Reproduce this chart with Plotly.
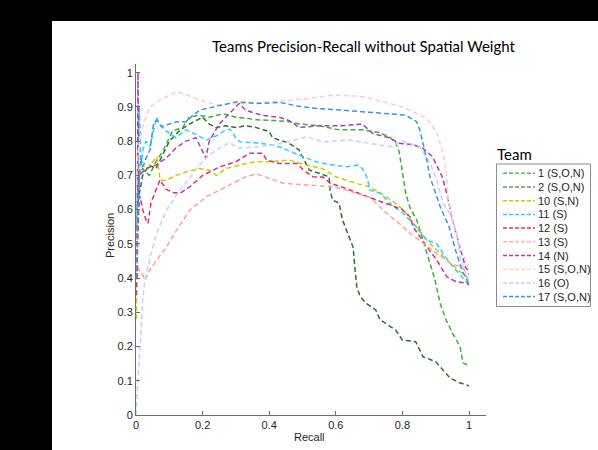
import plotly.graph_objects as go

# ---------------- data ----------------
teams = ["1 (S,O,N)", "2 (S,O,N)", "10 (S,N)", "11 (S)", "12 (S)",
         "13 (S)", "14 (N)", "15 (S,O,N)", "16 (O)", "17 (S,O,N)"]

r1 = [0.003, 0.01, 0.02, 0.04, 0.06, 0.08, 0.11, 0.14, 0.16, 0.19, 0.22, 0.26, 0.30, 0.34, 0.37, 0.42, 0.46,
      0.49, 0.55, 0.61, 0.68, 0.73, 0.76, 0.78, 0.79, 0.80, 0.81, 0.823, 0.843, 0.862, 0.883, 0.898, 0.913,
      0.93, 0.95, 0.973, 0.982, 1.0]
p1 = [0.60, 0.70, 0.72, 0.70, 0.74, 0.77, 0.83, 0.84, 0.87, 0.876, 0.87, 0.88, 0.87, 0.865, 0.862, 0.86, 0.857,
      0.85, 0.845, 0.833, 0.833, 0.825, 0.813, 0.795, 0.77, 0.71, 0.648, 0.605, 0.57, 0.511, 0.444, 0.394, 0.327,
      0.28, 0.24, 0.20, 0.152, 0.145]

r2 = [0.005, 0.02, 0.04, 0.06, 0.08, 0.10, 0.13, 0.16, 0.18, 0.20, 0.22, 0.24, 0.27, 0.30, 0.33, 0.36, 0.40,
      0.41, 0.46, 0.49, 0.51, 0.52, 0.58, 0.583, 0.59, 0.61, 0.62, 0.64, 0.652, 0.658, 0.663, 0.673, 0.69,
      0.72, 0.733, 0.78, 0.80, 0.84, 0.862, 0.90, 0.943, 0.97, 1.0]
p2 = [0.62, 0.70, 0.73, 0.72, 0.76, 0.80, 0.83, 0.85, 0.86, 0.87, 0.85, 0.84, 0.845, 0.84, 0.845, 0.84, 0.828,
      0.81, 0.794, 0.774, 0.735, 0.716, 0.696, 0.657, 0.628, 0.619, 0.57, 0.521, 0.49, 0.424, 0.375, 0.346, 0.327,
      0.307, 0.278, 0.248, 0.219, 0.214, 0.17, 0.156, 0.108, 0.095, 0.085]

r10 = [0.001, 0.003, 0.006, 0.01, 0.02, 0.035, 0.05, 0.062, 0.068, 0.072, 0.09, 0.12, 0.15, 0.19, 0.22, 0.242,
       0.27, 0.31, 0.36, 0.40, 0.46, 0.51, 0.56, 0.60, 0.66, 0.70, 0.74, 0.773, 0.803, 0.843, 0.873, 0.903,
       0.943, 0.973, 0.993, 1.0]
p10 = [0.28, 0.50, 0.65, 0.70, 0.73, 0.72, 0.74, 0.755, 0.72, 0.687, 0.685, 0.70, 0.71, 0.72, 0.715, 0.70,
       0.72, 0.73, 0.74, 0.74, 0.745, 0.73, 0.72, 0.696, 0.677, 0.667, 0.645, 0.623, 0.599, 0.55, 0.511, 0.482,
       0.444, 0.419, 0.404, 0.39]

r11 = [0.002, 0.006, 0.01, 0.015, 0.022, 0.03, 0.042, 0.05, 0.062, 0.07, 0.09, 0.12, 0.15, 0.18, 0.21, 0.24,
       0.265, 0.282, 0.30, 0.312, 0.36, 0.412, 0.44, 0.50, 0.553, 0.63, 0.665, 0.68, 0.693, 0.703, 0.733, 0.773,
       0.803, 0.84, 0.873, 0.903, 0.922, 0.952, 0.993, 1.0]
p11 = [0.55, 0.75, 0.90, 0.73, 0.78, 0.80, 0.784, 0.82, 0.87, 0.85, 0.83, 0.81, 0.833, 0.82, 0.803, 0.815,
       0.83, 0.835, 0.81, 0.798, 0.795, 0.789, 0.78, 0.755, 0.736, 0.725, 0.73, 0.72, 0.696, 0.657, 0.648, 0.609,
       0.589, 0.55, 0.511, 0.501, 0.472, 0.433, 0.389, 0.38]

r12 = [0.001, 0.004, 0.008, 0.012, 0.02, 0.03, 0.036, 0.045, 0.06, 0.072, 0.09, 0.11, 0.132, 0.162, 0.20, 0.252,
       0.30, 0.342, 0.38, 0.392, 0.43, 0.483, 0.502, 0.532, 0.562, 0.583, 0.622, 0.70, 0.73, 0.76, 0.80, 0.823,
       0.832, 0.873, 0.903, 0.933, 0.96, 0.993, 1.0]
p12 = [0.35, 0.50, 0.60, 0.64, 0.60, 0.57, 0.56, 0.62, 0.66, 0.687, 0.66, 0.65, 0.648, 0.667, 0.70, 0.725,
       0.74, 0.765, 0.765, 0.745, 0.735, 0.735, 0.716, 0.696, 0.695, 0.677, 0.665, 0.635, 0.625, 0.615, 0.60, 0.579,
       0.55, 0.492, 0.453, 0.404, 0.39, 0.385, 0.38]

r13 = [0.001, 0.004, 0.01, 0.02, 0.027, 0.042, 0.062, 0.092, 0.122, 0.162, 0.212, 0.272, 0.33, 0.362, 0.412,
       0.442, 0.512, 0.592, 0.633, 0.703, 0.753, 0.79, 0.823, 0.862, 0.903, 0.943, 0.973, 0.993, 1.0]
p13 = [0.55, 0.45, 0.42, 0.41, 0.394, 0.424, 0.453, 0.492, 0.54, 0.599, 0.638, 0.667, 0.696, 0.704, 0.686,
       0.677, 0.672, 0.667, 0.657, 0.635, 0.589, 0.56, 0.531, 0.501, 0.472, 0.444, 0.433, 0.419, 0.41]

r14 = [0.003, 0.006, 0.008, 0.01, 0.03, 0.06, 0.09, 0.12, 0.15, 0.18, 0.20, 0.21, 0.22, 0.25, 0.28, 0.31, 0.33,
       0.38, 0.43, 0.46, 0.49, 0.55, 0.62, 0.68, 0.71, 0.76, 0.79, 0.83, 0.86, 0.89, 0.92, 0.935, 0.95, 0.97,
       0.99, 1.0]
p14 = [0.40, 1.00, 0.65, 0.70, 0.72, 0.73, 0.75, 0.78, 0.80, 0.81, 0.77, 0.75, 0.80, 0.85, 0.88, 0.91, 0.89,
       0.875, 0.87, 0.86, 0.84, 0.845, 0.845, 0.85, 0.823, 0.81, 0.794, 0.79, 0.78, 0.755, 0.695, 0.64, 0.57, 0.50,
       0.43, 0.42]

r15 = [0.001, 0.005, 0.01, 0.02, 0.03, 0.042, 0.062, 0.09, 0.122, 0.152, 0.192, 0.242, 0.302, 0.35, 0.412,
       0.462, 0.523, 0.592, 0.682, 0.742, 0.80, 0.832, 0.873, 0.903, 0.922, 0.933, 0.937, 0.95, 0.963, 0.982,
       0.993, 1.0]
p15 = [0.65, 0.75, 0.80, 0.84, 0.87, 0.90, 0.915, 0.93, 0.945, 0.935, 0.92, 0.906, 0.91, 0.912, 0.915,
       0.92, 0.925, 0.935, 0.93, 0.915, 0.90, 0.886, 0.866, 0.825, 0.765, 0.70, 0.63, 0.57, 0.521, 0.472,
       0.444, 0.42]

r16 = [0.0, 0.005, 0.012, 0.021, 0.027, 0.042, 0.062, 0.092, 0.132, 0.16, 0.19, 0.22, 0.25, 0.28, 0.31, 0.372,
       0.442, 0.512, 0.562, 0.643, 0.693, 0.763, 0.80, 0.832, 0.853, 0.883, 0.903, 0.922, 0.943, 0.963, 0.973,
       0.993, 1.0]
p16 = [0.0, 0.10, 0.19, 0.346, 0.394, 0.46, 0.531, 0.599, 0.657, 0.69, 0.73, 0.76, 0.78, 0.795, 0.78, 0.784,
       0.794, 0.813, 0.798, 0.803, 0.795, 0.784, 0.80, 0.789, 0.784, 0.735, 0.687, 0.619, 0.589, 0.531, 0.462,
       0.404, 0.39]

r17 = [0.001, 0.003, 0.006, 0.01, 0.015, 0.021, 0.03, 0.042, 0.052, 0.062, 0.077, 0.10, 0.122, 0.152, 0.17,
       0.192, 0.262, 0.302, 0.362, 0.432, 0.50, 0.55, 0.613, 0.70, 0.81, 0.843, 0.853, 0.87, 0.883, 0.913, 0.94,
       0.96, 0.98, 0.994, 1.0]
p17 = [0.40, 0.50, 0.60, 0.70, 0.75, 0.725, 0.75, 0.774, 0.847, 0.862, 0.842, 0.85, 0.857, 0.857, 0.875,
       0.891, 0.906, 0.915, 0.91, 0.913, 0.90, 0.895, 0.891, 0.885, 0.876, 0.857, 0.83, 0.76, 0.695, 0.61, 0.55,
       0.48, 0.42, 0.394, 0.38]

recalls = [r1, r2, r10, r11, r12, r13, r14, r15, r16, r17]
precisions = [p1, p2, p10, p11, p12, p13, p14, p15, p16, p17]

x_ticks = [0, 0.2, 0.4, 0.6, 0.8, 1]
x_ticktext = ["0", "0.2", "0.4", "0.6", "0.8", "1"]
y_ticks = [0, 0.1, 0.2, 0.3, 0.4, 0.5, 0.6, 0.7, 0.8, 0.9, 1]
y_ticktext = ["0", "0.1", "0.2", "0.3", "0.4", "0.5", "0.6", "0.7", "0.8", "0.9", "1"]

# ---------------- styling ----------------
colors = ["#3cb03c", "#2f6f2f", "#cccc00", "#33ccff", "#d6337a",
          "#ff9f9f", "#b03cb0", "#ffcccc", "#ccccff", "#3399dd"]
legend_colors = ["#4cbf4c", "#6a946a", "#cccc00", "#33ccff", "#d6337a",
                 "#ffb0b0", "#b03cb0", "#ffd6d6", "#ccccff", "#3399dd"]

W_FIG, H_FIG = 598, 450
ML, MR, MT, MB = 136, 112, 64, 35
PW = W_FIG - ML - MR
PH = H_FIG - MT - MB
X_UNIT = 333.0
Y_UNIT = 342.3


def px_x(px):
    return (px - ML) / PW


def px_y(py):
    return (H_FIG - MB - py) / PH


fig = go.Figure()
for name, rr, pp, col in zip(teams, recalls, precisions, colors):
    fig.add_trace(go.Scatter(x=rr, y=pp, mode="lines", name=name,
                             line=dict(color=col, width=1.5, dash="5px,3px"),
                             showlegend=False))

axis_common = dict(showgrid=False, zeroline=False, showline=True, linecolor="#6e6e6e", linewidth=1,
                   ticks="inside", ticklen=4, tickcolor="#6e6e6e",
                   tickfont=dict(family="Liberation Sans, Arial", size=11, color="#262626"))
fig.update_xaxes(range=[0, PW / X_UNIT], tickvals=x_ticks, ticktext=x_ticktext, **axis_common)
fig.update_yaxes(range=[0, PH / Y_UNIT], tickvals=y_ticks, ticktext=y_ticktext, **axis_common)

shapes = [
    # black framing (left strip and top strip)
    dict(type="rect", xref="paper", yref="paper", x0=px_x(0), x1=px_x(52), y0=px_y(450), y1=px_y(0),
         fillcolor="black", line=dict(width=0), layer="above"),
    dict(type="rect", xref="paper", yref="paper", x0=px_x(0), x1=px_x(598), y0=px_y(21), y1=px_y(0),
         fillcolor="black", line=dict(width=0), layer="above"),
    # legend box
    dict(type="rect", xref="paper", yref="paper", x0=px_x(496.5), x1=px_x(590.5), y0=px_y(306.5),
         y1=px_y(164), fillcolor="white", line=dict(color="#8a8a8a", width=1), layer="above"),
]
annotations = [
    dict(text="Teams Precision-Recall without Spatial Weight", xref="paper", yref="paper",
         x=px_x(363), y=px_y(46), showarrow=False, xanchor="center", yanchor="middle",
         font=dict(family="Lato, Open Sans", size=15, color="black")),
    dict(text="Recall", xref="paper", yref="paper", x=px_x(309), y=px_y(437), showarrow=False,
         xanchor="center", yanchor="middle", font=dict(family="Liberation Sans, Arial", size=11, color="#262626")),
    dict(text="Precision", xref="paper", yref="paper", x=px_x(110), y=px_y(236), showarrow=False,
         textangle=-90, xanchor="center", yanchor="middle",
         font=dict(family="Liberation Sans, Arial", size=11, color="#262626")),
    dict(text="Team", xref="paper", yref="paper", x=px_x(495), y=px_y(154), showarrow=False,
         xanchor="left", yanchor="middle", font=dict(family="Lato, Open Sans", size=15, color="black")),
]

row0, row_step = 173.3, 13.7
for i, (name, col) in enumerate(zip(teams, legend_colors)):
    yy = row0 + i * row_step
    shapes.append(dict(type="line", xref="paper", yref="paper", x0=px_x(503), x1=px_x(535),
                       y0=px_y(yy), y1=px_y(yy), line=dict(color=col, width=1.5, dash="4px,2px"),
                       layer="above"))
    annotations.append(dict(text=name, xref="paper", yref="paper", x=px_x(536), y=px_y(yy),
                            showarrow=False, xanchor="left", yanchor="middle",
                            font=dict(family="Liberation Sans, Arial", size=11, color="#262626")))

fig.update_layout(width=W_FIG, height=H_FIG, margin=dict(l=ML, r=MR, t=MT, b=MB),
                  paper_bgcolor="white", plot_bgcolor="white", showlegend=False,
                  shapes=shapes, annotations=annotations)

fig.write_html("out.html", config={"displayModeBar": False},
               post_script="document.body.style.margin='0';document.body.style.overflow='hidden';")
